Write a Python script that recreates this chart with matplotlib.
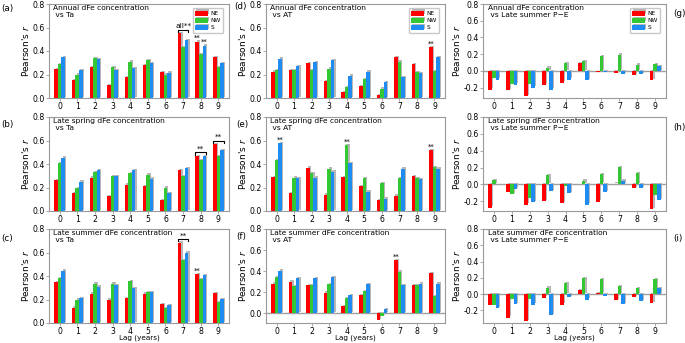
import numpy as np
import matplotlib
matplotlib.use("Agg")
import matplotlib.pyplot as plt
import matplotlib.patheffects as pe
import matplotlib.ticker as mticker

lags = list(range(10))
series = ["NE", "NW", "S"]
colors = ["#ff0000", "#33c733", "#1e8cf0"]

# (a) Annual vs Ta
a_NE = [0.245, 0.15, 0.265, 0.11, 0.18, 0.28, 0.22, 0.55, 0.48, 0.345]
a_NW = [0.29, 0.20, 0.34, 0.26, 0.31, 0.32, 0.20, 0.43, 0.375, 0.265]
a_S = [0.345, 0.24, 0.33, 0.235, 0.255, 0.295, 0.215, 0.49, 0.445, 0.30]
# (b) Late spring vs Ta
b_NE = [0.26, 0.15, 0.285, 0.125, 0.225, 0.21, 0.095, 0.345, 0.47, 0.57]
b_NW = [0.405, 0.195, 0.33, 0.30, 0.325, 0.31, 0.20, 0.30, 0.435, 0.47]
b_S = [0.455, 0.25, 0.345, 0.30, 0.345, 0.275, 0.15, 0.365, 0.465, 0.52]
# (c) Late summer vs Ta
c_NE = [0.345, 0.13, 0.25, 0.20, 0.21, 0.25, 0.16, 0.685, 0.415, 0.255]
c_NW = [0.385, 0.20, 0.335, 0.335, 0.355, 0.265, 0.125, 0.535, 0.375, 0.18]
c_S = [0.445, 0.21, 0.31, 0.32, 0.30, 0.26, 0.15, 0.60, 0.41, 0.205]
# (d) Annual vs AT
d_NE = [0.225, 0.24, 0.30, 0.145, 0.05, 0.10, 0.025, 0.35, 0.29, 0.43]
d_NW = [0.235, 0.24, 0.235, 0.25, 0.095, 0.16, 0.08, 0.31, 0.22, 0.23]
d_S = [0.335, 0.27, 0.305, 0.32, 0.19, 0.225, 0.135, 0.18, 0.21, 0.345]
# (e) Late spring vs AT
e_NE = [0.29, 0.15, 0.37, 0.14, 0.29, 0.21, 0.09, 0.13, 0.30, 0.52]
e_NW = [0.43, 0.285, 0.32, 0.36, 0.56, 0.28, 0.235, 0.28, 0.28, 0.375]
e_S = [0.58, 0.28, 0.285, 0.335, 0.41, 0.165, 0.105, 0.36, 0.27, 0.36]
# (f) Late summer vs AT
f_NE = [0.28, 0.30, 0.27, 0.195, 0.07, 0.17, -0.065, 0.505, 0.27, 0.38]
f_NW = [0.34, 0.26, 0.27, 0.275, 0.14, 0.21, -0.03, 0.395, 0.265, 0.165]
f_S = [0.405, 0.33, 0.33, 0.34, 0.175, 0.275, 0.035, 0.27, 0.28, 0.28]
# (g) Annual vs Late summer P-E
g_NE = [-0.225, -0.235, -0.30, -0.17, -0.14, 0.09, -0.01, -0.03, -0.05, -0.115]
g_NW = [-0.09, -0.16, -0.16, 0.04, 0.09, 0.115, 0.175, 0.195, 0.075, 0.08]
g_S = [-0.105, -0.165, -0.20, -0.225, -0.105, -0.11, -0.015, -0.035, -0.035, 0.055]
# (h) Late spring vs Late summer P-E
h_NE = [-0.275, -0.09, -0.24, -0.195, -0.225, 0.005, -0.205, 0.01, -0.04, -0.29]
h_NW = [0.05, -0.115, -0.155, 0.11, -0.02, 0.045, 0.12, 0.205, 0.135, -0.12]
h_S = [0.0, -0.055, -0.21, -0.075, -0.10, -0.24, -0.095, 0.045, -0.045, -0.185]
# (i) Late summer vs Late summer P-E
i_NE = [-0.13, -0.29, -0.33, -0.045, -0.13, 0.05, 0.01, -0.075, -0.04, -0.11]
i_NW = [-0.13, -0.065, -0.06, 0.08, 0.135, 0.20, 0.18, 0.095, 0.07, 0.18]
i_S = [-0.17, -0.125, -0.13, -0.255, -0.035, -0.07, -0.025, -0.125, -0.085, 0.075]

titles = {
    "a": "Annual dFe concentration\n vs Ta",
    "b": "Late spring dFe concentration\n vs Ta",
    "c": "Late summer dFe concentration\n vs Ta",
    "d": "Annual dFe concentration\n vs AT",
    "e": "Late spring dFe concentration\n vs AT",
    "f": "Late summer dFe concentration\n vs AT",
    "g": "Annual dFe concentration\n vs Late summer P\u2212E",
    "h": "Late spring dFe concentration\n vs Late summer P\u2212E",
    "i": "Late summer dFe concentration\n vs Late summer P\u2212E",
}
data = {
    "a": (a_NE, a_NW, a_S), "b": (b_NE, b_NW, b_S), "c": (c_NE, c_NW, c_S),
    "d": (d_NE, d_NW, d_S), "e": (e_NE, e_NW, e_S), "f": (f_NE, f_NW, f_S),
    "g": (g_NE, g_NW, g_S), "h": (h_NE, h_NW, h_S), "i": (i_NE, i_NW, i_S),
}
# significance marks: (panel, lag, series index) single bars
sig_single = [("a", 8, 0), ("a", 8, 2), ("c", 8, 0), ("d", 9, 0),
              ("e", 0, 2), ("e", 4, 1), ("e", 9, 0), ("f", 7, 0)]
# brackets spanning all three series: (panel, lag, label)
sig_bracket = [("a", 7, "all**"), ("b", 8, "**"), ("b", 9, "**"), ("c", 7, "**")]

W, H = 685, 343
fig = plt.figure(figsize=(W / 100, H / 100), dpi=100)

col_x = [49, 266, 483]
col_w = [180, 179, 183]
row_y = [4, 117, 229]
row_h = 94
layout = [["a", "d", "g"], ["b", "e", "h"], ["c", "f", "i"]]

width = 0.2
offsets = [-0.2, 0.0, 0.2]
spine_col = "#9a9a9a"
shadow = [pe.SimplePatchShadow(offset=(0.9, 0.9), shadow_rgbFace="#b0b0b0", alpha=0.9), pe.Normal()]

x = np.arange(len(lags))
for r in range(3):
    for c in range(3):
        key = layout[r][c]
        ax = fig.add_axes([col_x[c] / W, 1 - (row_y[r] + row_h) / H, col_w[c] / W, row_h / H])
        vals = data[key]
        for k in range(3):
            bars = ax.bar(x + offsets[k], vals[k], width=width, color=colors[k], label=series[k], zorder=3)
            for b in bars:
                b.set_path_effects(shadow)
        lo = min(min(v) for v in vals)
        hi = max(max(v) for v in vals)
        if lo < 0:
            ax.axhline(0, color="#a0a0a0", lw=1.0, zorder=2)
            bottom = lo - 0.05 * (hi - lo)
        else:
            bottom = 0.0
        ax.set_xticks(x)
        ax.set_xticklabels([str(l) for l in lags])
        ax.set_yticks([-0.2, 0.0, 0.2, 0.4, 0.6, 0.8])
        ax.yaxis.set_major_formatter(mticker.FormatStrFormatter("%.1f"))
        ax.set_xlim(-0.6, 9.6)
        ax.set_ylim(bottom, 0.8)
        ax.tick_params(labelsize=5.6, length=2.2, width=0.6, color=spine_col, pad=0.9)
        for s in ax.spines.values():
            s.set_color(spine_col)
            s.set_linewidth(0.8)
        ax.set_ylabel("Pearson's $r$", fontsize=6.5, labelpad=1)
        if r == 2:
            ax.set_xlabel("Lag (years)", fontsize=5.2)
            ax.xaxis.label.set_va("center")
            ax.xaxis.set_label_coords(0.5, -(338 - (row_y[r] + row_h)) / row_h)
        ax.text(0.025, 0.985, titles[key], transform=ax.transAxes, fontsize=5.4, va="top", ha="left",
                linespacing=1.05)
        if r == 0:
            ax.legend(loc="upper right", fontsize=4.2, frameon=True, handlelength=2.2, handleheight=0.9,
                      borderpad=0.4, labelspacing=0.3, handletextpad=0.5, fancybox=True,
                      edgecolor="#bbbbbb", bbox_to_anchor=(0.985, 0.985))
        # annotations
        for (p, lag, k) in sig_single:
            if p == key:
                ax.text(lag + offsets[k], vals[k][lag] + 0.005, "**", ha="center", va="bottom", fontsize=5)
        for (p, lag, lab) in sig_bracket:
            if p == key:
                top = max(v[lag] for v in vals) + 0.03
                x0, x1 = lag + offsets[0] - width / 2, lag + offsets[2] + width / 2
                ax.plot([x0, x0, x1, x1], [top - 0.02, top, top, top - 0.02], color="black", lw=0.8)
                ax.text((x0 + x1) / 2, top + 0.003, lab, ha="center", va="bottom", fontsize=5.3)

# panel labels
fs_lab = 6.3
fig.text(1 / W, 1 - 8 / H, "(a)", fontsize=fs_lab, va="center")
fig.text(1 / W, 1 - 125 / H, "(b)", fontsize=fs_lab, va="center")
fig.text(1 / W, 1 - 238 / H, "(c)", fontsize=fs_lab, va="center")
fig.text(234 / W, 1 - 6 / H, "(d)", fontsize=fs_lab, va="center")
fig.text(236 / W, 1 - 124 / H, "(e)", fontsize=fs_lab, va="center")
fig.text(236 / W, 1 - 237 / H, "(f)", fontsize=fs_lab, va="center")
fig.text(673 / W, 1 - 14 / H, "(g)", fontsize=fs_lab, va="center")
fig.text(673 / W, 1 - 127 / H, "(h)", fontsize=fs_lab, va="center")
fig.text(673 / W, 1 - 239 / H, "(i)", fontsize=fs_lab, va="center")

fig.savefig("out.png", dpi=100)
